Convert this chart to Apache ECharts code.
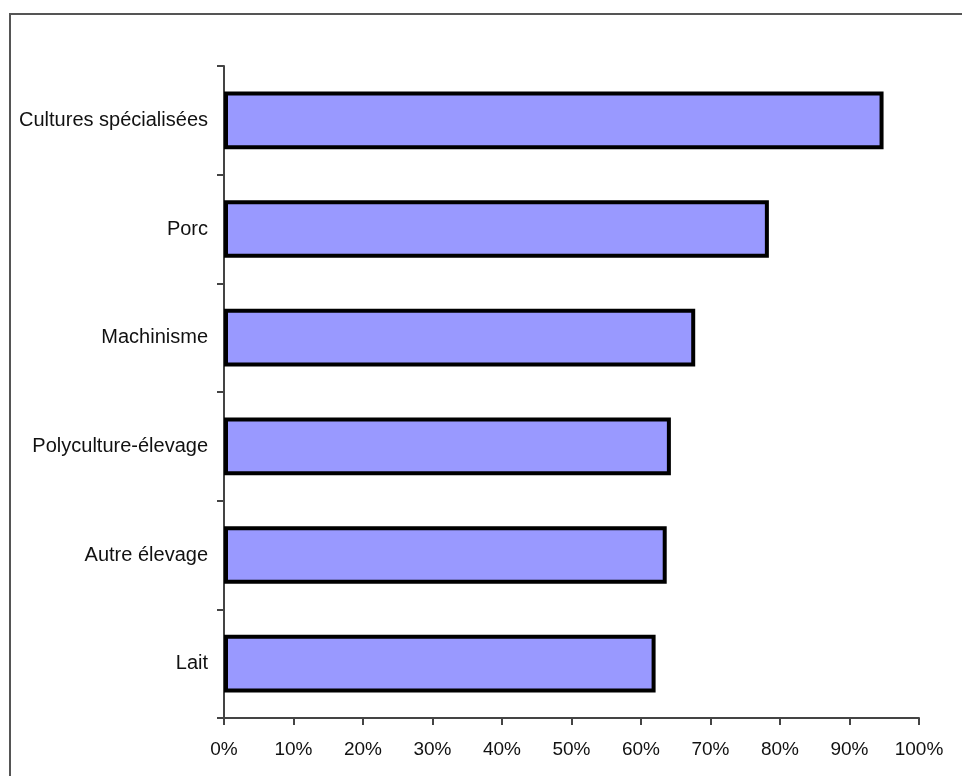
<!DOCTYPE html>
<html>
<head>
<meta charset="utf-8">
<script src="https://cdn.jsdelivr.net/npm/echarts@6/dist/echarts.min.js"></script>
<style>
  html, body { margin: 0; padding: 0; background: #fff; }
  #main { width: 962px; height: 776px; }
</style>
</head>
<body>
<div id="main"></div>
<script>
// categories bottom -> top
var categories = ['Lait', 'Autre élevage', 'Polyculture-élevage', 'Machinisme', 'Porc', 'Cultures spécialisées'];
var shares = [62.1, 63.7, 64.3, 67.8, 78.4, 94.9];

var chart = echarts.init(document.getElementById('main'), null, { renderer: 'canvas' });

var option = {
  backgroundColor: '#fff',
  animation: false,
  graphic: [{
    type: 'rect',
    shape: { x: 10, y: 14, width: 1000, height: 800 },
    style: { fill: 'none', stroke: '#555', lineWidth: 2 }
  }],
  grid: { left: 224, right: 43, top: 66, bottom: 58 },
  xAxis: {
    type: 'value',
    min: 0,
    max: 100,
    interval: 10,
    splitLine: { show: false },
    axisLine: { show: true, lineStyle: { color: '#444', width: 2 } },
    axisTick: { show: true, length: 7, lineStyle: { color: '#444', width: 2 } },
    axisLabel: {
      formatter: '{value}%',
      color: '#111',
      fontFamily: 'Liberation Sans, Arial, sans-serif',
      fontSize: 19,
      margin: 22
    }
  },
  yAxis: {
    type: 'category',
    data: categories,
    axisLine: { show: true, lineStyle: { color: '#444', width: 2 } },
    axisTick: { show: true, length: 7, lineStyle: { color: '#444', width: 2 } },
    axisLabel: {
      color: '#111',
      fontFamily: 'Liberation Sans, Arial, sans-serif',
      fontSize: 20,
      margin: 16
    }
  },
  series: [{
    type: 'bar',
    data: shares,
    barCategoryGap: '47%',
    itemStyle: {
      color: '#9999FF',
      borderColor: '#000',
      borderWidth: 4
    }
  }]
};

chart.setOption(option);
</script>
</body>
</html>
